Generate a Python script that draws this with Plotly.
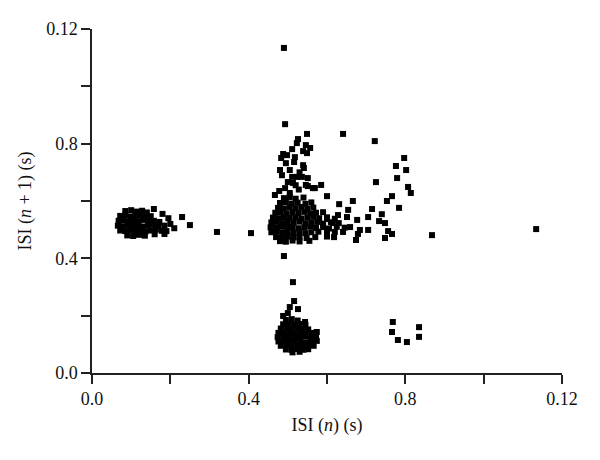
import plotly.graph_objects as go

# ---- data (ISI(n), ISI(n+1)) ----
# Cluster near ISI(n)~0.1
isi_n_a = [0.085, 0.100, 0.115, 0.128, 0.140,
           0.072, 0.085, 0.098, 0.111, 0.124, 0.137, 0.150,
           0.068, 0.080, 0.093, 0.106, 0.119, 0.132, 0.145, 0.158, 0.172,
           0.066, 0.078, 0.091, 0.104, 0.117, 0.130, 0.143, 0.156, 0.170, 0.185,
           0.072, 0.085, 0.098, 0.111, 0.124, 0.137, 0.150, 0.163, 0.178,
           0.090, 0.105, 0.120, 0.135, 0.160, 0.185,
           0.158, 0.180, 0.195, 0.200, 0.210, 0.230, 0.250, 0.319, 0.406, 0.190]
isi_n1_a = [0.565, 0.568, 0.563, 0.566, 0.560,
            0.548, 0.550, 0.546, 0.549, 0.551, 0.545, 0.547,
            0.531, 0.533, 0.529, 0.532, 0.530, 0.534, 0.528, 0.531, 0.527,
            0.514, 0.512, 0.516, 0.513, 0.515, 0.511, 0.514, 0.517, 0.512, 0.514,
            0.497, 0.495, 0.499, 0.496, 0.498, 0.494, 0.497, 0.500, 0.496,
            0.480, 0.478, 0.482, 0.479, 0.484, 0.485,
            0.572, 0.555, 0.540, 0.520, 0.505, 0.544, 0.516, 0.492, 0.488, 0.495]

# Main cluster near ISI(n)~0.5, ISI(n+1)~0.5
isi_n_b = [0.490, 0.505, 0.520, 0.540,
           0.480, 0.495, 0.510, 0.525, 0.545, 0.560,
           0.475, 0.490, 0.505, 0.520, 0.535, 0.550, 0.565,
           0.468, 0.482, 0.497, 0.512, 0.527, 0.542, 0.557, 0.572, 0.590,
           0.462, 0.476, 0.490, 0.505, 0.520, 0.535, 0.550, 0.565, 0.580, 0.600, 0.620,
           0.458, 0.472, 0.486, 0.500, 0.515, 0.530, 0.545, 0.560, 0.575, 0.590, 0.610, 0.630,
           0.456, 0.470, 0.484, 0.498, 0.512, 0.527, 0.542, 0.557, 0.572, 0.590, 0.605, 0.625, 0.645,
           0.458, 0.472, 0.486, 0.500, 0.515, 0.530, 0.545, 0.560, 0.578, 0.600, 0.620,
           0.470, 0.485, 0.500, 0.515, 0.530, 0.548, 0.570, 0.600,
           0.480, 0.495, 0.512, 0.530, 0.555]
isi_n1_b = [0.610, 0.614, 0.608, 0.612,
            0.593, 0.596, 0.591, 0.594, 0.590, 0.595,
            0.576, 0.574, 0.578, 0.575, 0.579, 0.573, 0.577,
            0.559, 0.561, 0.557, 0.560, 0.558, 0.562, 0.556, 0.559, 0.561,
            0.542, 0.540, 0.544, 0.541, 0.543, 0.539, 0.542, 0.545, 0.540, 0.543, 0.538,
            0.525, 0.527, 0.523, 0.526, 0.524, 0.528, 0.522, 0.525, 0.527, 0.521, 0.526, 0.523,
            0.508, 0.506, 0.510, 0.507, 0.509, 0.505, 0.508, 0.511, 0.506, 0.509, 0.504, 0.510, 0.507,
            0.491, 0.493, 0.489, 0.492, 0.490, 0.494, 0.488, 0.491, 0.493, 0.489, 0.492,
            0.474, 0.472, 0.476, 0.473, 0.475, 0.471, 0.474, 0.476,
            0.460, 0.458, 0.462, 0.459, 0.461]

# Scattered points around the main cluster
isi_n_s = [0.467, 0.493, 0.600, 0.585, 0.569, 0.551, 0.600, 0.615, 0.628, 0.651,
           0.677, 0.659, 0.641, 0.618, 0.674, 0.679, 0.684, 0.705, 0.705, 0.631,
           0.654, 0.666, 0.715, 0.740, 0.733, 0.748, 0.756, 0.766, 0.748, 0.766,
           0.753, 0.784, 0.807, 0.814, 0.725, 0.802, 0.779, 0.797, 0.776, 0.722,
           0.641, 0.549, 0.493, 0.490, 0.868, 1.134,
           0.526, 0.523, 0.546, 0.557, 0.511, 0.539, 0.549, 0.488, 0.498, 0.483,
           0.518, 0.516, 0.495, 0.539, 0.541, 0.480, 0.505, 0.551, 0.511, 0.523,
           0.536, 0.500, 0.513, 0.546, 0.493, 0.564,
           0.478, 0.505, 0.528, 0.485, 0.530, 0.520]
isi_n1_s = [0.621, 0.603, 0.617, 0.656, 0.645, 0.652, 0.537, 0.523, 0.551, 0.544,
            0.534, 0.509, 0.492, 0.474, 0.464, 0.485, 0.499, 0.499, 0.544, 0.589,
            0.569, 0.600, 0.572, 0.554, 0.530, 0.523, 0.495, 0.485, 0.471, 0.617,
            0.600, 0.576, 0.649, 0.628, 0.666, 0.708, 0.680, 0.750, 0.722, 0.809,
            0.834, 0.834, 0.868, 1.134, 0.481, 0.502,
            0.816, 0.802, 0.795, 0.785, 0.781, 0.774, 0.767, 0.764, 0.760, 0.750,
            0.753, 0.736, 0.732, 0.725, 0.715, 0.708, 0.708, 0.680, 0.684, 0.684,
            0.684, 0.666, 0.663, 0.656, 0.645, 0.645,
            0.635, 0.628, 0.640, 0.690, 0.700, 0.655]

# Lower cluster near ISI(n)~0.5, ISI(n+1)~0.13
isi_n_c = [0.490, 0.513, 0.516, 0.505, 0.526, 0.488, 0.500, 0.544, 0.574,
           0.495, 0.510, 0.525,
           0.488, 0.502, 0.516, 0.530, 0.545,
           0.482, 0.496, 0.510, 0.524, 0.538, 0.552,
           0.476, 0.490, 0.504, 0.518, 0.532, 0.546, 0.560,
           0.474, 0.488, 0.502, 0.516, 0.530, 0.544, 0.558, 0.572,
           0.476, 0.490, 0.504, 0.518, 0.532, 0.546, 0.560, 0.574,
           0.482, 0.496, 0.510, 0.524, 0.538, 0.552, 0.566,
           0.495, 0.510, 0.525, 0.540, 0.552,
           0.512, 0.530]
isi_n1_c = [0.408, 0.317, 0.251, 0.230, 0.223, 0.199, 0.209, 0.178, 0.143,
            0.185, 0.188, 0.183,
            0.170, 0.172, 0.168, 0.171, 0.167,
            0.155, 0.157, 0.153, 0.156, 0.154, 0.152,
            0.140, 0.138, 0.142, 0.139, 0.141, 0.137, 0.140,
            0.125, 0.127, 0.123, 0.126, 0.124, 0.128, 0.122, 0.125,
            0.110, 0.108, 0.112, 0.109, 0.111, 0.107, 0.110, 0.112,
            0.095, 0.097, 0.093, 0.096, 0.094, 0.098, 0.095,
            0.082, 0.080, 0.084, 0.081, 0.083,
            0.072, 0.074]

# Small group near ISI(n)~0.8
isi_n_d = [0.768, 0.766, 0.781, 0.804, 0.835, 0.835]
isi_n1_d = [0.178, 0.143, 0.115, 0.108, 0.160, 0.126]

tick_vals = [0.0, 0.2, 0.4, 0.6, 0.8, 1.0, 1.2]
tick_text = ["0.0", "", "0.4", "", "0.8", "", "0.12"]

x_all = isi_n_a + isi_n_b + isi_n_s + isi_n_c + isi_n_d
y_all = isi_n1_a + isi_n1_b + isi_n1_s + isi_n1_c + isi_n1_d

fig = go.Figure(go.Scatter(
    x=x_all, y=y_all, mode="markers",
    marker=dict(symbol="square", size=6, color="black", line=dict(width=0)),
    showlegend=False, cliponaxis=False,
))

font = dict(family="Liberation Serif, Times New Roman, serif", size=18, color="#111")
axis_common = dict(
    range=[0, 1.2], showgrid=False, zeroline=False,
    showline=True, linecolor="#222", linewidth=1.5,
    ticks="outside", ticklen=9, tickwidth=1.5, tickcolor="#222",
    tickvals=tick_vals, ticktext=tick_text, tickfont=font,
)
# page body has an 8px default margin, so the figure is sized to compensate
fig.update_layout(
    width=592, height=452,
    margin=dict(l=84, r=38, t=21, b=87),
    paper_bgcolor="white", plot_bgcolor="white",
    font=font,
    xaxis=dict(axis_common, title=dict(text="ISI (<i>n</i>) (s)", font=font, standoff=10)),
    yaxis=dict(axis_common, title=dict(text="ISI (<i>n</i> + 1) (s)", font=font, standoff=10)),
)
fig.write_html("out.html")
